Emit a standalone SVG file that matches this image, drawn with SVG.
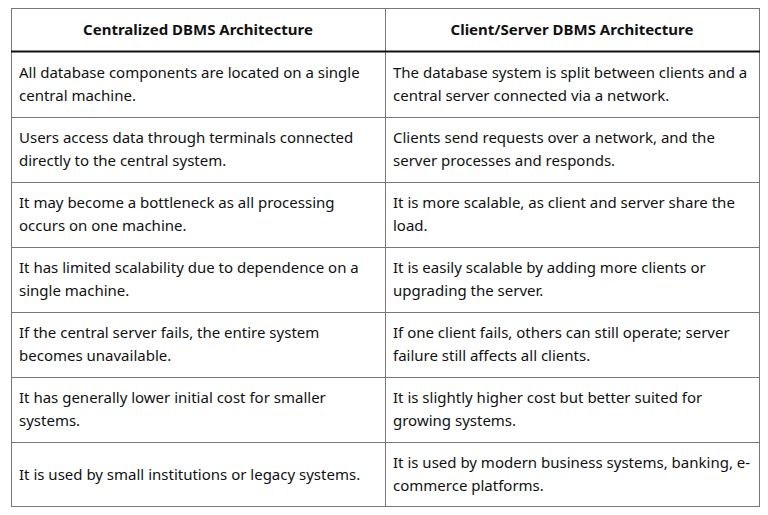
<svg xmlns="http://www.w3.org/2000/svg" width="768" height="515" viewBox="0 0 768 515">
<style>
text{font-family:"Noto Sans","Open Sans",sans-serif;font-size:15px;fill:#111}
.h{font-weight:bold;text-anchor:middle}
.g{stroke:#777;stroke-width:1;fill:none}
</style>
<rect width="768" height="515" fill="#fff"/>
<g id="grid">
<rect class="g" x="11.5" y="8.5" width="748" height="498"/>
<line class="g" x1="385.5" y1="8" x2="385.5" y2="507"/>
<line x1="11" y1="51.5" x2="760" y2="51.5" stroke="#111" stroke-width="2"/>
<line class="g" x1="11" y1="117.5" x2="760" y2="117.5"/>
<line class="g" x1="11" y1="182.5" x2="760" y2="182.5"/>
<line class="g" x1="11" y1="247.5" x2="760" y2="247.5"/>
<line class="g" x1="11" y1="312.5" x2="760" y2="312.5"/>
<line class="g" x1="11" y1="377.5" x2="760" y2="377.5"/>
<line class="g" x1="11" y1="442.5" x2="760" y2="442.5"/>
</g>
<g id="header">
<text class="h" x="198" y="35">Centralized DBMS Architecture</text>
<text class="h" x="572" y="35">Client/Server DBMS Architecture</text>
</g>
<g id="left">
<text x="19" y="78">All database components are located on a single</text>
<text x="19" y="101">central machine.</text>
<text x="19" y="143">Users access data through terminals connected</text>
<text x="19" y="166">directly to the central system.</text>
<text x="19" y="208">It may become a bottleneck as all processing</text>
<text x="19" y="231">occurs on one machine.</text>
<text x="19" y="273">It has limited scalability due to dependence on a</text>
<text x="19" y="296">single machine.</text>
<text x="19" y="338">If the central server fails, the entire system</text>
<text x="19" y="361">becomes unavailable.</text>
<text x="19" y="403">It has generally lower initial cost for smaller</text>
<text x="19" y="426">systems.</text>
<text x="19" y="480">It is used by small institutions or legacy systems.</text>
</g>
<g id="right">
<text x="393" y="78">The database system is split between clients and a</text>
<text x="393" y="101">central server connected via a network.</text>
<text x="393" y="143">Clients send requests over a network, and the</text>
<text x="393" y="166">server processes and responds.</text>
<text x="393" y="208">It is more scalable, as client and server share the</text>
<text x="393" y="231">load.</text>
<text x="393" y="273">It is easily scalable by adding more clients or</text>
<text x="393" y="296">upgrading the server.</text>
<text x="393" y="338">If one client fails, others can still operate; server</text>
<text x="393" y="361">failure still affects all clients.</text>
<text x="393" y="403">It is slightly higher cost but better suited for</text>
<text x="393" y="426">growing systems.</text>
<text x="393" y="468">It is used by modern business systems, banking, e-</text>
<text x="393" y="491">commerce platforms.</text>
</g>
</svg>
